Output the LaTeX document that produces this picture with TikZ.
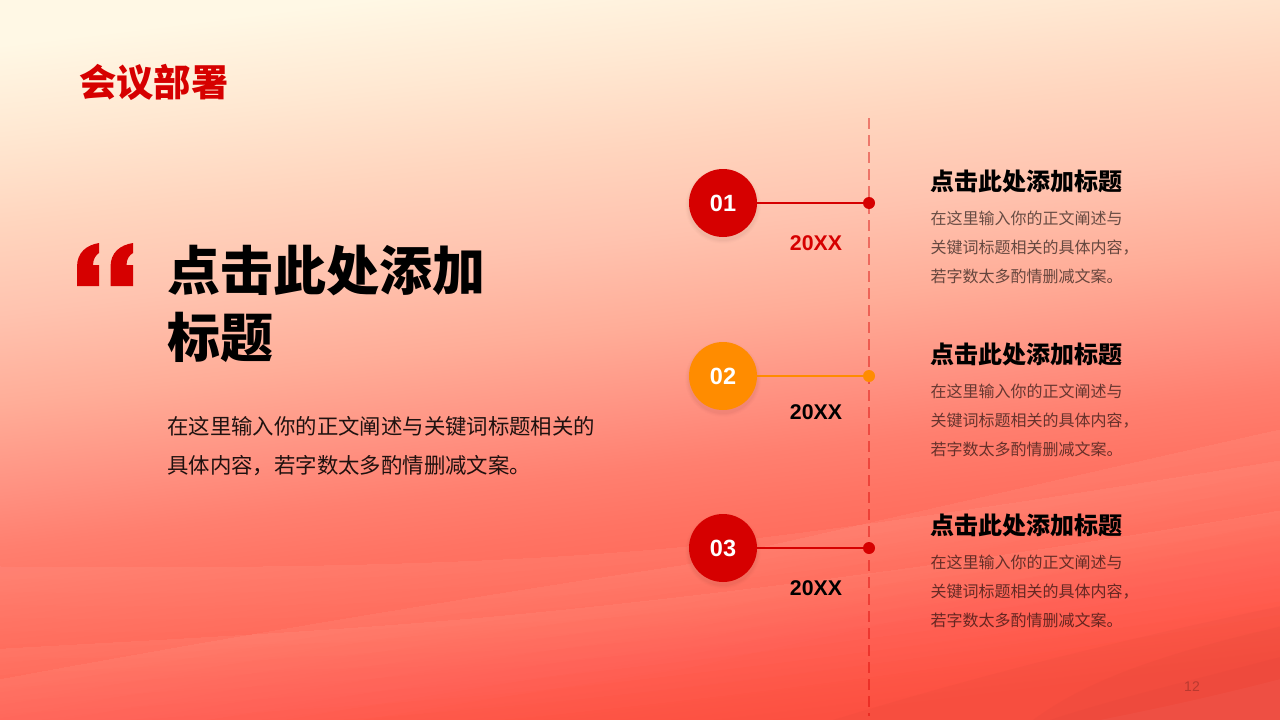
\documentclass[tikz,border=0pt]{standalone}
\usepackage{fontspec}
\usetikzlibrary{fadings}
\newfontfamily\cjk{Noto Sans CJK SC}
\newfontfamily\cjkb{Noto Sans CJK SC Black}
\newfontfamily\latinb{Liberation Sans Bold}
\newfontfamily\latin{Liberation Sans}
\definecolor{bgA}{HTML}{FFF8E5}
\definecolor{bgB}{HTML}{FFE8D2}
\definecolor{bgC}{HTML}{FFD5BE}
\definecolor{bgD}{HTML}{FFC3AF}
\definecolor{bgE}{HTML}{FFAD98}
\definecolor{bgF}{HTML}{FF9080}
\definecolor{bgG}{HTML}{FF7F6F}
\definecolor{bgH}{HTML}{FF7363}
\definecolor{bgI}{HTML}{FF6A5A}
\definecolor{bgJ}{HTML}{FF6252}
\definecolor{bgK}{HTML}{FF5A4A}
\definecolor{bgL}{HTML}{FC5041}
\definecolor{redMain}{HTML}{D60000}
\definecolor{orangeMain}{HTML}{FF8C00}
\pgfdeclareverticalshading{bgshade}{100bp}{
  color(0bp)=(bgL); color(40.62bp)=(bgL); color(42.17bp)=(bgK); color(43.51bp)=(bgJ); color(44.63bp)=(bgI);
  color(45.96bp)=(bgH); color(47.30bp)=(bgG); color(48.63bp)=(bgF); color(50.86bp)=(bgE); color(53.09bp)=(bgD);
  color(55.31bp)=(bgC); color(57.54bp)=(bgB); color(59.77bp)=(bgA); color(100bp)=(bgA)}
\tikzset{
  headfont/.style={font=\fontsize{53}{67}\selectfont\cjkb},
  titlefont/.style={font=\fontsize{37.3}{45}\selectfont\cjkb, text=redMain},
  leadbody/.style={font=\fontsize{21.4}{39}\selectfont\cjk, text=black, text opacity=.88, align=left},
  subtitle/.style={font=\fontsize{24}{30}\selectfont\cjkb, text=black},
  itembody/.style={font=\fontsize{16}{29}\selectfont\cjk, text=black, text opacity=.6, align=left},
  txt/.style={inner sep=0pt, anchor=west},
  badge/.style={circle, minimum size=68pt, inner sep=0pt, text=white, font=\fontsize{23.5}{28}\selectfont\latinb},
  dot/.style={circle, minimum size=12pt, inner sep=0pt},
  yearlabel/.style={inner sep=0pt, font=\fontsize{21.3}{26}\selectfont\latinb},
  link/.style={line width=2pt},
  darkwave/.style={fill=bgL!75!black, fill opacity=.07},
  quotemark/.style={fill=redMain},
}
\newcommand{\softshadow}[2]{%
  \foreach \r/\o in {38/.008,37/.012,36/.016,35/.02}{\fill[black, opacity=\o] (#1,#2+3) circle (\r pt);}}
% wave edges, forward and back, with an offset below the edge
\newcommand{\waveAf}[1]{(-20,566+#1) .. controls (300,570+#1) and (520,562+#1) .. (680,547+#1) .. controls (880,525+#1) and (1100,490+#1) .. (1300,457+#1)}
\newcommand{\waveAb}[1]{(1300,457+#1) .. controls (1100,490+#1) and (880,525+#1) .. (680,547+#1) .. controls (520,562+#1) and (300,570+#1) .. (-20,566+#1)}
\newcommand{\waveBf}[1]{(-20,683+#1) .. controls (200,642+#1) and (450,600+#1) .. (684,565+#1) .. controls (860,525+#1) and (1100,470+#1) .. (1300,425+#1)}
\newcommand{\waveBb}[1]{(1300,425+#1) .. controls (1100,470+#1) and (860,525+#1) .. (684,565+#1) .. controls (450,600+#1) and (200,642+#1) .. (-20,683+#1)}
\newcommand{\waveCf}[1]{(-20,650+#1) .. controls (150,640+#1) and (330,632+#1) .. (510,615+#1) .. controls (700,597+#1) and (1000,560+#1) .. (1300,507+#1)}
\newcommand{\waveCb}[1]{(1300,507+#1) .. controls (1000,560+#1) and (700,597+#1) .. (510,615+#1) .. controls (330,632+#1) and (150,640+#1) .. (-20,650+#1)}
\newcommand{\softband}[3]{% forward edge, back edge, opacity per layer
  \foreach \i in {1,...,8}{\pgfmathsetmacro{\hh}{\i*13}\fill[white, fill opacity=#3] #1{0} -- #2{\hh} -- cycle;}}
\begin{document}
\begin{tikzpicture}[x=1pt,y=-1pt]
\useasboundingbox (0,0) rectangle (1280,720);
\begin{scope}
  \clip (0,0) rectangle (1280,720);
  \shade[shading=bgshade, shading angle=7] (-360,-640) rectangle (1640,1360);
  % waves
  \softband{\waveAf}{\waveAb}{.007}
  \softband{\waveBf}{\waveBb}{.011}
  \softband{\waveCf}{\waveCb}{.01}
  \fill[darkwave] (833,720) .. controls (980,675) and (1120,640) .. (1300,602) -- (1300,740) -- (833,740) -- cycle;
  \fill[darkwave] (1033,720) .. controls (1100,670) and (1200,645) .. (1300,622) -- (1300,740) -- (1033,740) -- cycle;
  \fill[darkwave] (1050,720) .. controls (1110,700) and (1200,678) .. (1300,652) -- (1300,740) -- (1050,740) -- cycle;
  \fill[white, fill opacity=.03] (1100,720) .. controls (1160,708) and (1220,695) .. (1300,674) -- (1300,740) -- (1100,740) -- cycle;
\end{scope}

% left column
\node[txt, titlefont] (title) at (79,82) {会议部署};
\fill[quotemark] (77,286) -- (77,267) .. controls (77,252) and (87,245) .. (99,243) -- (99,253) .. controls (96,255) and (93,259) .. (93,265) -- (99,265) -- (99,286) -- cycle;
\fill[quotemark] (110.5,286) -- (110.5,267) .. controls (110.5,252) and (120.5,245) .. (133,243) -- (133,253) .. controls (129.5,255) and (126.5,259) .. (126.5,265) -- (133,265) -- (133,286) -- cycle;
\node[txt, headfont, align=left] (heading) at (167.5,311) {\strut 点击此处添加\\\strut 标题};
\node[txt, leadbody] (lead) at (167,446.5) {\strut 在这里输入你的正文阐述与关键词标题相关的\\\strut 具体内容，若字数太多酌情删减文案。};

% timeline
\coordinate (railtop) at (869,118);
\coordinate (railbot) at (869,716);
\draw[redMain, line width=1.2pt, draw opacity=.42, dash pattern=on 11pt off 6pt] (railtop) -- (railbot);

% items
\softshadow{723}{203}
\node[badge, fill=redMain] (b1) at (723,203) {01};
\node[dot, fill=redMain] (d1) at (869,203) {};
\draw[link, redMain] (b1) -- (d1);
\node[yearlabel, text=redMain] (y1) at (816,243) {20XX};
\node[txt, subtitle] (s1) at (930.5,181) {点击此处添加标题};
\node[txt, itembody] (t1) at (930.5,248) {\strut 在这里输入你的正文阐述与\\\strut 关键词标题相关的具体内容，\\\strut 若字数太多酌情删减文案。};

\softshadow{723}{376}
\node[badge, fill=orangeMain] (b2) at (723,376) {02};
\node[dot, fill=orangeMain] (d2) at (869,376) {};
\draw[link, orangeMain] (b2) -- (d2);
\node[yearlabel, text=black] (y2) at (816,412) {20XX};
\node[txt, subtitle] (s2) at (930.5,354) {点击此处添加标题};
\node[txt, itembody] (t2) at (930.5,420.5) {\strut 在这里输入你的正文阐述与\\\strut 关键词标题相关的具体内容，\\\strut 若字数太多酌情删减文案。};

\softshadow{723}{548}
\node[badge, fill=redMain] (b3) at (723,548) {03};
\node[dot, fill=redMain] (d3) at (869,548) {};
\draw[link, redMain] (b3) -- (d3);
\node[yearlabel, text=black] (y3) at (816,588) {20XX};
\node[txt, subtitle] (s3) at (930.5,525) {点击此处添加标题};
\node[txt, itembody] (t3) at (930.5,592) {\strut 在这里输入你的正文阐述与\\\strut 关键词标题相关的具体内容，\\\strut 若字数太多酌情删减文案。};

\node[inner sep=0pt, font=\fontsize{14}{16}\selectfont\latin, text=black, text opacity=.22] (page) at (1192,687) {12};
\end{tikzpicture}
\end{document}
